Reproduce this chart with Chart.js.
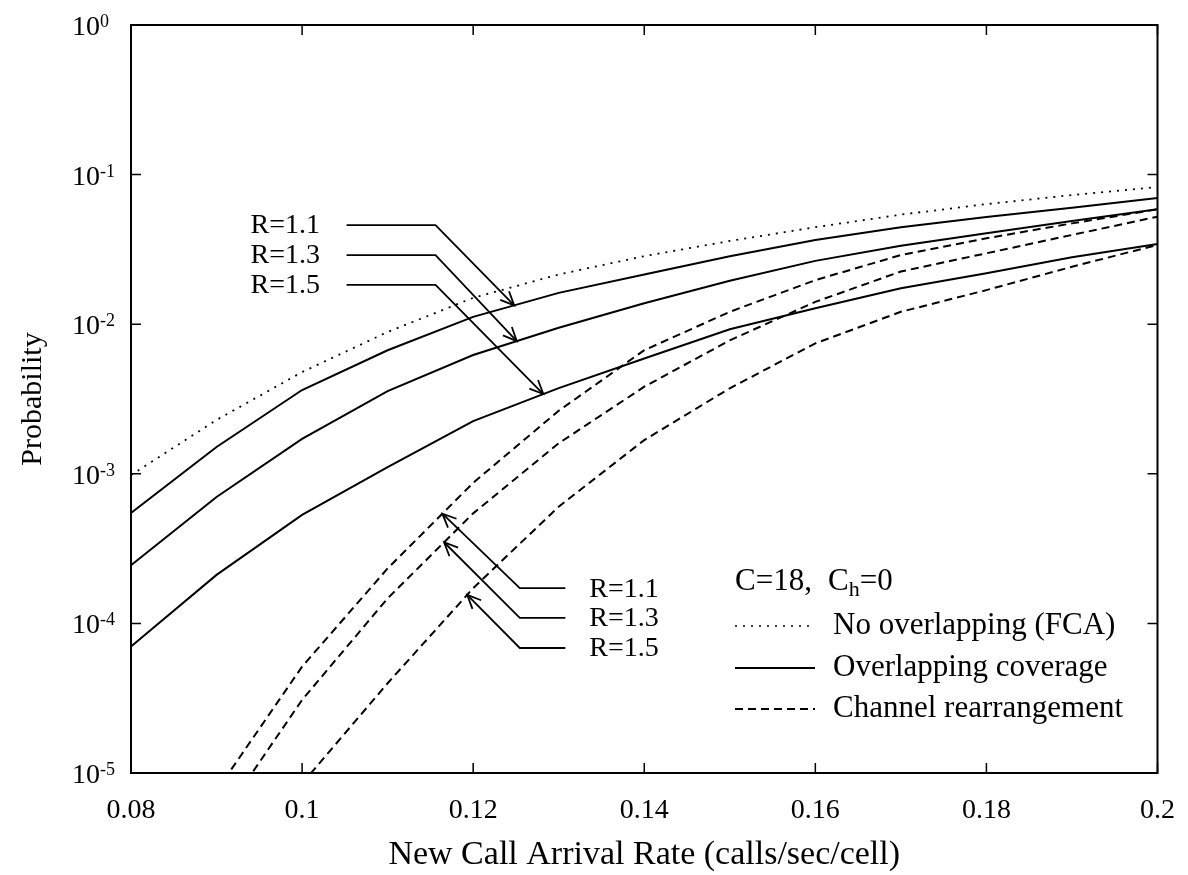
<!DOCTYPE html>
<html><head><meta charset="utf-8">
<script src="https://cdn.jsdelivr.net/npm/chart.js@4.4.0/dist/chart.umd.min.js"></script>
<style>html,body{margin:0;padding:0;background:#fff;overflow:hidden}canvas{display:block}</style>
</head><body>
<canvas id="c" width="1188" height="875"></canvas>
<script>
// ---------- data ----------
const arrivalRates = [0.08,0.09,0.10,0.11,0.12,0.13,0.14,0.15,0.16,0.17,0.18,0.19,0.20];
const noOverlapFCA = [9.8e-4,2.29e-3,4.79e-3,8.87e-3,1.50e-2,2.15e-2,2.85e-2,3.6e-2,4.45e-2,5.4e-2,6.35e-2,7.3e-2,8.26e-2];
const overlapR11 = [5.47e-4,1.51e-3,3.63e-3,6.7e-3,1.12e-2,1.62e-2,2.15e-2,2.85e-2,3.65e-2,4.45e-2,5.2e-2,6.0e-2,6.98e-2];
const overlapR13 = [2.45e-4,7.0e-4,1.71e-3,3.57e-3,6.22e-3,9.46e-3,1.38e-2,1.95e-2,2.65e-2,3.35e-2,4.05e-2,4.9e-2,5.86e-2];
const overlapR15 = [7.0e-5,2.11e-4,5.31e-4,1.11e-3,2.25e-3,3.74e-3,5.9e-3,9.25e-3,1.28e-2,1.74e-2,2.19e-2,2.8e-2,3.44e-2];
const rearrR11 = [null,7.6e-6,5.14e-5,2.33e-4,8.7e-4,2.64e-3,6.7e-3,1.21e-2,1.97e-2,2.9e-2,3.75e-2,4.72e-2,5.86e-2];
const rearrR13 = [null,4.5e-6,3.08e-5,1.47e-4,5.44e-4,1.6e-3,3.82e-3,7.8e-3,1.41e-2,2.25e-2,2.98e-2,3.95e-2,5.23e-2];
const rearrR15 = [null,null,8.5e-6,3.98e-5,1.72e-4,6.03e-4,1.68e-3,3.73e-3,7.45e-3,1.21e-2,1.69e-2,2.42e-2,3.39e-2];

const xTickValues = [0.08,0.10,0.12,0.14,0.16,0.18,0.20];
const xTickLabels = ['0.08','0.1','0.12','0.14','0.16','0.18','0.2'];
const yTickValues = [1e-5,1e-4,1e-3,1e-2,1e-1,1];
const yTickExponents = ['-5','-4','-3','-2','-1','0'];

const rLabels = ['R=1.1','R=1.3','R=1.5'];
const legendHeader = ['C=18,', 'C', 'h', '=0'];
const legendLabels = ['No overlapping (FCA)','Overlapping coverage','Channel rearrangement'];
const xTitle = 'New Call Arrival Rate (calls/sec/cell)';
const yTitle = 'Probability';

// ---------- styling / layout ----------
const FONT = '"Liberation Serif","Times New Roman",serif';
const INK = '#000';
const DOTTED = [2,6], DASHED = [8,5];

// annotation anchors (data space): arrows point at curves
const upperAnno = {series:[overlapR11,overlapR13,overlapR15], tipX:[0.1248,0.1251,0.1282],
  elbowX:0.1156, elbowY:[4.6e-2,2.9e-2,1.83e-2], lineX:0.1052, textX:0.1021};
const lowerAnno = {series:[rearrR11,rearrR13,rearrR15], tipX:[0.1164,0.1166,0.1193],
  elbowX:0.12545, elbowY:[1.72e-4,1.09e-4,6.85e-5], lineX:0.13078, textX:0.13357};
const legendBox = {x:735, headerY:582, rowsY:[626,668,709], sampleW:80, textX:833, hX:828};
const yLabelLeft = 72;

function pts(arr){ return arrivalRates.map((x,i)=>({x, y:arr[i]})); }
function valueAt(series, xv){
  for(let i=0;i<arrivalRates.length-1;i++){
    const x0=arrivalRates[i], x1=arrivalRates[i+1];
    if(xv>=x0 && xv<=x1){
      const t=(xv-x0)/(x1-x0);
      return Math.pow(10, Math.log10(series[i])+(Math.log10(series[i+1])-Math.log10(series[i]))*t);
    }
  }
  return null;
}
function ds(label, arr, dash, w){
  return {label, data:pts(arr), borderColor:INK, borderWidth:w, borderDash:dash,
    pointRadius:0, tension:0, fill:false, spanGaps:false};
}

function arrowHead(ctx, fx, fy, tx, ty){
  const ang = Math.atan2(ty-fy, tx-fx), L=15, s=0.42;
  ctx.beginPath();
  ctx.moveTo(tx - L*Math.cos(ang-s), ty - L*Math.sin(ang-s));
  ctx.lineTo(tx, ty);
  ctx.lineTo(tx - L*Math.cos(ang+s), ty - L*Math.sin(ang+s));
  ctx.stroke();
}

const framePlugin = {
  id:'frame',
  afterDraw(chart){
    const {ctx, chartArea:a, scales:{x, y}} = chart;
    ctx.save();
    ctx.strokeStyle=INK; ctx.fillStyle=INK;
    ctx.lineWidth=2; ctx.setLineDash([]);
    ctx.strokeRect(a.left, a.top, a.right-a.left, a.bottom-a.top);
    ctx.lineWidth=1.5;
    ctx.beginPath();
    xTickValues.forEach(v=>{ const px=x.getPixelForValue(v);
      ctx.moveTo(px,a.bottom); ctx.lineTo(px,a.bottom-10);
      ctx.moveTo(px,a.top); ctx.lineTo(px,a.top+10); });
    yTickValues.forEach(v=>{ const py=y.getPixelForValue(v);
      ctx.moveTo(a.left,py); ctx.lineTo(a.left+10,py);
      ctx.moveTo(a.right,py); ctx.lineTo(a.right-10,py); });
    ctx.stroke();

    // y tick labels 10^n
    ctx.textBaseline='alphabetic'; ctx.textAlign='left';
    yTickValues.forEach((v,i)=>{
      const py=y.getPixelForValue(v);
      ctx.font='28px '+FONT; const w1=ctx.measureText('10').width;
      ctx.fillText('10', yLabelLeft, py+10);
      ctx.font='18px '+FONT; ctx.fillText(yTickExponents[i], yLabelLeft+w1, py+2);
    });

    // annotations
    ctx.lineWidth=1.8;
    ctx.font='28px '+FONT; ctx.textBaseline='middle';
    [upperAnno, lowerAnno].forEach((an, k)=>{
      an.tipX.forEach((tx,i)=>{
        const tpx=x.getPixelForValue(tx), tpy=y.getPixelForValue(valueAt(an.series[i],tx));
        const ex=x.getPixelForValue(an.elbowX), ey=y.getPixelForValue(an.elbowY[i]);
        const lx=x.getPixelForValue(an.lineX);
        ctx.beginPath(); ctx.moveTo(lx,ey); ctx.lineTo(ex,ey); ctx.lineTo(tpx,tpy); ctx.stroke();
        arrowHead(ctx, ex, ey, tpx, tpy);
        ctx.textAlign = k===0 ? 'right' : 'left';
        ctx.fillText(rLabels[i], x.getPixelForValue(an.textX), ey+1);
      });
    });

    // legend
    const L=legendBox;
    ctx.textAlign='left'; ctx.textBaseline='middle';
    ctx.font='31px '+FONT;
    ctx.fillText(legendHeader[0], L.x, L.headerY);
    ctx.fillText(legendHeader[1], L.hX, L.headerY);
    const wc=ctx.measureText(legendHeader[1]).width;
    ctx.font='22px '+FONT; ctx.fillText(legendHeader[2], L.hX+wc, L.headerY+8);
    const wh=ctx.measureText(legendHeader[2]).width;
    ctx.font='31px '+FONT; ctx.fillText(legendHeader[3], L.hX+wc+wh, L.headerY);
    const styles=[[DOTTED,1.6],[[],2],[DASHED,2]];
    legendLabels.forEach((t,i)=>{
      ctx.setLineDash(styles[i][0]); ctx.lineWidth=styles[i][1];
      ctx.beginPath(); ctx.moveTo(L.x, L.rowsY[i]); ctx.lineTo(L.x+L.sampleW, L.rowsY[i]); ctx.stroke();
      ctx.setLineDash([]);
      ctx.fillText(t, L.textX, L.rowsY[i]);
    });
    ctx.restore();
  }
};

new Chart(document.getElementById('c').getContext('2d'), {
  type:'line',
  data:{datasets:[
    ds('No overlapping (FCA)', noOverlapFCA, DOTTED, 1.8),
    ds('Overlapping R=1.1', overlapR11, [], 2),
    ds('Overlapping R=1.3', overlapR13, [], 2),
    ds('Overlapping R=1.5', overlapR15, [], 2),
    ds('Rearrangement R=1.1', rearrR11, DASHED, 2),
    ds('Rearrangement R=1.3', rearrR13, DASHED, 2),
    ds('Rearrangement R=1.5', rearrR15, DASHED, 2)
  ]},
  options:{
    responsive:false, animation:false, devicePixelRatio:1,
    layout:{padding:{top:25, right:22, left:0, bottom:0}},
    plugins:{legend:{display:false}, tooltip:{enabled:false}, title:{display:false}},
    scales:{
      x:{type:'linear', min:0.08, max:0.2,
        afterBuildTicks:s=>{ s.ticks = xTickValues.map(v=>({value:v})); },
        ticks:{callback:(v,i)=>xTickLabels[i], font:{family:FONT, size:28}, color:INK, padding:13, maxRotation:0, autoSkip:false},
        grid:{display:false}, border:{display:false},
        title:{display:true, text:xTitle, font:{family:FONT, size:34}, color:INK, padding:{top:0, bottom:0}},
        afterFit:s=>{ s.height=102; }},
      y:{type:'logarithmic', min:1e-5, max:1,
        afterBuildTicks:s=>{ s.ticks = yTickValues.map(v=>({value:v})); },
        ticks:{display:false},
        grid:{display:false}, border:{display:false},
        title:{display:true, text:yTitle, font:{family:FONT, size:30}, color:INK, padding:{top:15, bottom:0}},
        afterFit:s=>{ s.width=131; }}
    }
  },
  plugins:[framePlugin]
});
</script>
</body></html>
